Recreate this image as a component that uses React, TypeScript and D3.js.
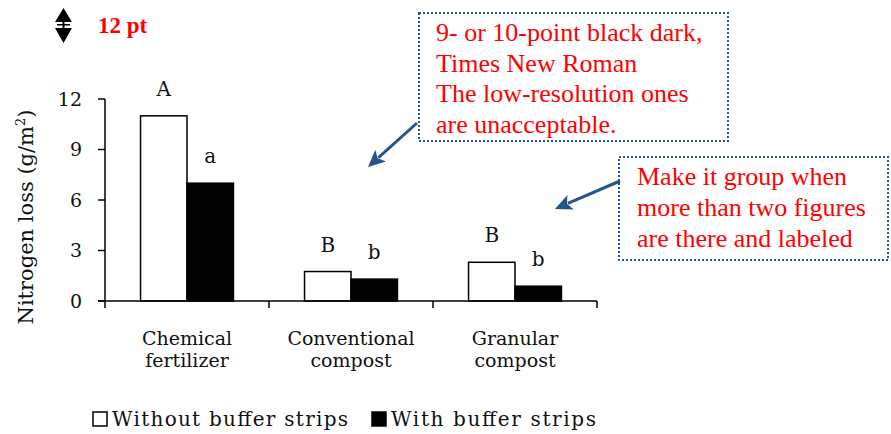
import * as d3 from "d3";

const W = 891;
const H = 434;

const categories = ["Chemical fertilizer", "Conventional compost", "Granular compost"];
const categoryLines = [
  ["Chemical", "fertilizer"],
  ["Conventional", "compost"],
  ["Granular", "compost"],
];
const seriesNames = ["Without buffer strips", "With buffer strips"];
const withoutBuffer = [11, 1.75, 2.3];
const withBuffer = [7, 1.3, 0.88];
const withoutLetters = ["A", "B", "B"];
const withLetters = ["a", "b", "b"];
const yTicks = [0, 3, 6, 9, 12];

const note1 = [
  "9- or 10-point black dark,",
  "Times New Roman",
  "The low-resolution ones",
  "are unacceptable.",
];
const note2 = ["Make it group when", "more than two figures", "are there and labeled"];

const SERIF = "DejaVu Serif";
const TIMES = "Liberation Serif";
const BLUE = "#24548a";

const x0 = d3.scaleBand().domain(categories).range([105, 597]);
const x1 = d3
  .scaleBand()
  .domain(seriesNames)
  .range([0, x0.bandwidth()])
  .paddingInner(0)
  .paddingOuter(0.765);
const y = d3.scaleLinear().domain([0, 12]).range([301, 99]);

const vals = [withoutBuffer, withBuffer];
const letters = [withoutLetters, withLetters];

function Arrow({ xa, ya, xb, yb }: { xa: number; ya: number; xb: number; yb: number }) {
  const ang = Math.atan2(yb - ya, xb - xa);
  const c = Math.cos(ang);
  const s = Math.sin(ang);
  const len = 17;
  const half = 8;
  const bx = xb - len * c;
  const by = yb - len * s;
  const head = `M${xb},${yb} L${bx - half * s},${by + half * c} L${bx + 4 * c},${by + 4 * s} L${bx + half * s},${by - half * c} Z`;
  return (
    <g>
      <line x1={xa} y1={ya} x2={bx + 3 * c} y2={by + 3 * s} stroke={BLUE} strokeWidth={3} />
      <path d={head} fill={BLUE} />
    </g>
  );
}

function Note({
  box,
  lines,
  tx,
  ty,
  dy,
}: {
  box: [number, number, number, number];
  lines: string[];
  tx: number;
  ty: number;
  dy: number;
}) {
  return (
    <g>
      <rect
        x={box[0]}
        y={box[1]}
        width={box[2] - box[0]}
        height={box[3] - box[1]}
        fill="#fff"
        stroke={BLUE}
        strokeWidth={2}
        strokeDasharray="2 2"
      />
      {lines.map((ln, i) => (
        <text
          key={ln}
          x={tx}
          y={ty + i * dy}
          fill="#ff0000"
          style={{ fontFamily: TIMES, fontSize: 26 }}
        >
          {ln}
        </text>
      ))}
    </g>
  );
}

export default function App() {
  const edges = [...categories.map((c) => x0(c)!), x0.range()[1]];
  const legX = [93, 372];
  const legLen = [236, 205];
  return (
    <svg
      width={W}
      height={H}
      style={{ position: "absolute", left: 0, top: 0, background: "#fff" }}
    >
      {/* bars */}
      {categories.map((cat, i) => (
        <g key={cat} transform={`translate(${x0(cat)},0)`}>
          {seriesNames.map((s, si) => (
            <g key={s}>
              <rect
                x={x1(s)}
                width={x1.bandwidth()}
                y={y(vals[si][i])}
                height={y(0) - y(vals[si][i])}
                fill={si === 0 ? "#fff" : "#000"}
                stroke="#000"
                strokeWidth={1.5}
              />
              <text
                x={x1(s)! + x1.bandwidth() / 2}
                y={y(vals[si][i]) - 20}
                textAnchor="middle"
                fill="#111"
                style={{ fontFamily: SERIF, fontSize: 20 }}
              >
                {letters[si][i]}
              </text>
            </g>
          ))}
        </g>
      ))}

      {/* y axis */}
      <line x1={105} x2={105} y1={y(12)} y2={y(0)} stroke="#000" strokeWidth={1.5} />
      {yTicks.map((t) => (
        <g key={t} transform={`translate(0,${y(t)})`}>
          <line x1={98} x2={105} stroke="#000" strokeWidth={1.5} />
          <text
            x={82}
            dy="0.35em"
            textAnchor="end"
            fill="#111"
            style={{ fontFamily: SERIF, fontSize: 19 }}
          >
            {t}
          </text>
        </g>
      ))}

      {/* x axis */}
      <line x1={98} x2={x0.range()[1]} y1={y(0)} y2={y(0)} stroke="#000" strokeWidth={1.5} />
      {edges.map((e) => (
        <line key={e} x1={e} x2={e} y1={y(0)} y2={y(0) + 7} stroke="#000" strokeWidth={1.5} />
      ))}
      {categories.map((cat, i) => (
        <text
          key={cat}
          textAnchor="middle"
          fill="#111"
          style={{ fontFamily: SERIF, fontSize: 19 }}
        >
          {categoryLines[i].map((ln, li) => (
            <tspan key={ln} x={x0(cat)! + x0.bandwidth() / 2} y={345 + li * 22}>
              {ln}
            </tspan>
          ))}
        </text>
      ))}

      {/* y title */}
      <text
        transform="translate(33,217) rotate(-90)"
        textAnchor="middle"
        fill="#111"
        style={{ fontFamily: SERIF, fontSize: 21 }}
      >
        <tspan>Nitrogen loss (g/m</tspan>
        <tspan dy={-8} style={{ fontSize: 13 }}>
          2
        </tspan>
        <tspan dy={8}>)</tspan>
      </text>

      {/* legend */}
      {seriesNames.map((s, si) => (
        <g key={s}>
          <rect
            x={legX[si]}
            y={412}
            width={14}
            height={14}
            fill={si === 0 ? "#fff" : "#000"}
            stroke="#000"
            strokeWidth={1.5}
          />
          <text
            x={legX[si] + 19}
            y={426}
            fill="#111"
            textLength={legLen[si]}
            lengthAdjust="spacing"
            style={{ fontFamily: SERIF, fontSize: 20 }}
          >
            {s}
          </text>
        </g>
      ))}

      {/* 12 pt marker */}
      <path
        d="M63.5,8 L72,22 L55,22 Z M55,28 L72,28 L63.5,43 Z M62.5,22 h2 v6 h-2 Z M57,24 h13 v1.5 h-13 Z"
        fill="#000"
      />
      <text
        x={98}
        y={33}
        fill="#ff0000"
        style={{ fontFamily: TIMES, fontSize: 23, fontWeight: "bold" }}
      >
        12 pt
      </text>

      {/* notes */}
      <Note box={[419, 13, 728, 141]} lines={note1} tx={436} ty={41} dy={30.5} />
      <Note box={[619, 157, 888, 260]} lines={note2} tx={637} ty={185} dy={31} />
      <Arrow xa={417} ya={123} xb={368} yb={167} />
      <Arrow xa={620} ya={181} xb={555} yb={209} />
    </svg>
  );
}
